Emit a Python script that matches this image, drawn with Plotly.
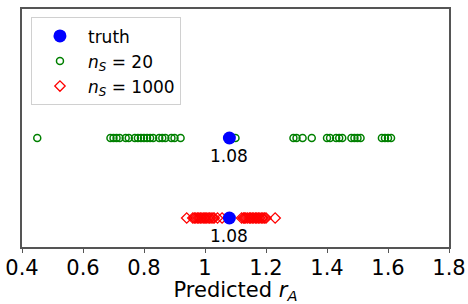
import plotly.graph_objects as go

truth_value = 1.08
truth_label = "1.08"
green_vals = [0.45, 0.69, 0.70, 0.71, 0.72, 0.74, 0.75, 0.77, 0.78, 0.79, 0.80,
              0.81, 0.82, 0.83, 0.85, 0.86, 0.87, 0.89, 0.90, 0.92, 1.10,
              1.29, 1.30, 1.32, 1.35, 1.40, 1.41, 1.43, 1.44, 1.45, 1.48,
              1.49, 1.50, 1.51, 1.58, 1.59, 1.60, 1.61]
red_vals = [0.94, 0.96, 0.965, 0.97, 0.976, 0.98, 0.985, 0.99, 0.996, 1.0,
            1.004, 1.01, 1.015, 1.02, 1.026, 1.03, 1.041, 1.056,
            1.12, 1.126, 1.13, 1.134, 1.14, 1.146, 1.15, 1.155, 1.16, 1.166,
            1.17, 1.175, 1.18, 1.186, 1.19, 1.195, 1.20, 1.23]
row_ns20 = 1
row_ns1000 = 0
x_ticks = [0.4, 0.6, 0.8, 1.0, 1.2, 1.4, 1.6, 1.8]
x_ticklabels = ["0.4", "0.6", "0.8", "1", "1.2", "1.4", "1.6", "1.8"]

FONT = "DejaVu Sans"
fig = go.Figure()
fig.add_trace(go.Scatter(x=green_vals, y=[row_ns20] * len(green_vals), mode="markers",
                         name="<i>n</i><sub><i>S</i></sub> = 20", legendrank=2,
                         marker=dict(symbol="circle-open", size=7, color="green",
                                     line=dict(width=1.5, color="green"))))
fig.add_trace(go.Scatter(x=red_vals, y=[row_ns1000] * len(red_vals), mode="markers",
                         name="<i>n</i><sub><i>S</i></sub> = 1000", legendrank=3,
                         marker=dict(symbol="diamond-open", size=8, color="red",
                                     line=dict(width=1.3, color="red"))))
fig.add_trace(go.Scatter(x=[truth_value, truth_value], y=[row_ns20, row_ns1000],
                         mode="markers", name="truth", legendrank=1,
                         marker=dict(symbol="circle", size=13, color="blue")))
for r in [row_ns20, row_ns1000]:
    fig.add_annotation(x=truth_value, y=r, text=truth_label, showarrow=False,
                       yshift=-18, font=dict(size=17, color="black", family=FONT))

fig.update_layout(
    width=468, height=304,
    margin=dict(l=22, r=19, t=9, b=57, autoexpand=False),
    paper_bgcolor="white", plot_bgcolor="white",
    font=dict(family=FONT, color="black"),
    showlegend=True,
    legend=dict(x=0.021, y=0.965, xanchor="left", yanchor="top",
                bgcolor="white", bordercolor="#d0d0d0", borderwidth=1,
                font=dict(size=17, family=FONT), tracegroupgap=5,
                itemwidth=46),
    xaxis=dict(range=[0.4, 1.8], tickvals=x_ticks, ticktext=x_ticklabels,
               showgrid=False, zeroline=False, showline=True, mirror=True,
               linecolor="#555", linewidth=1.5, ticks="outside", ticklen=4,
               tickcolor="#555", tickfont=dict(size=21), automargin=False,
               ticklabelstandoff=-3,
               title=dict(text="Predicted <i>r</i><sub><i>A</i></sub>",
                          font=dict(size=21), standoff=0)),
    yaxis=dict(range=[-0.3625, 2.6125], showticklabels=False, ticks="", showgrid=False,
               zeroline=False, showline=True, mirror=True, linecolor="#555",
               linewidth=1.5, automargin=False),
)
fig.write_html("out.html", config={"displayModeBar": False},
               post_script="document.body.style.margin='0';document.body.style.overflow='hidden';")
